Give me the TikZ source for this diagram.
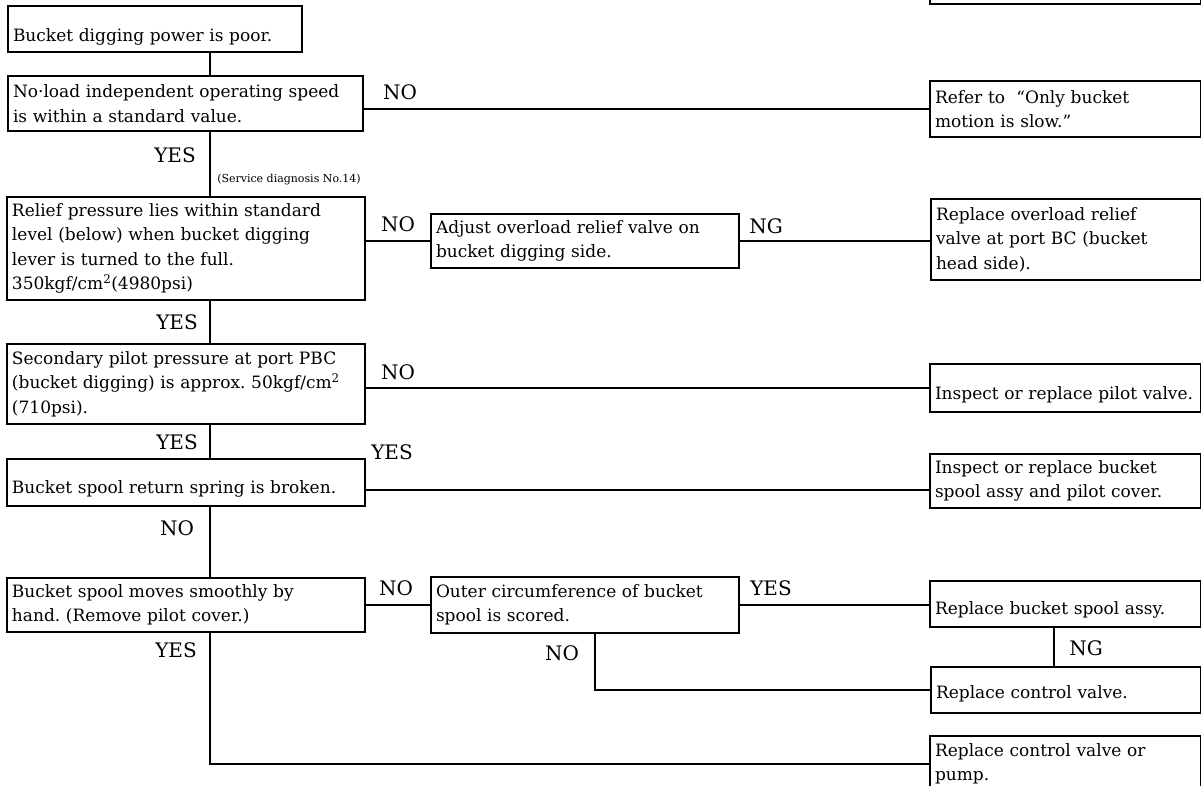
\documentclass[tikz,border=0pt]{standalone}
\usepackage{fontspec}
\setmainfont{DejaVu Serif}
\frenchspacing
\begin{document}
\begin{tikzpicture}[x=1pt,y=-1pt,
 bx/.style 2 args={draw, line width=2pt, anchor=north west, inner xsep=5pt, inner ysep=0pt, align=left, minimum width=#1pt, minimum height=#2pt, text width=#1pt-10pt, font=\fontsize{17}{24.5}\selectfont},
 sl/.style={text height=#1, text depth=0pt},
 lbl/.style={font=\fontsize{20}{24}\selectfont, inner sep=0pt},
 ln/.style={line width=2pt}]
\useasboundingbox (0,0) rectangle (1201,786);
\clip (0,0) rectangle (1201,786);
\node[bx={271}{43}] (top) at (929,-40) {};
\node[bx={294}{46}, sl=26pt] (b1) at (7,5) {Bucket digging power is poor.};
\node[bx={355}{55}] (b2) at (7,75) {No·load independent operating speed\\is within a standard value.};
\node[bx={271}{56}] (refer) at (929,80) {Refer to\ \ “Only bucket\\motion is slow.”};
\node[bx={358}{103}] (b3) at (6,196) {Relief pressure lies within standard\\level (below) when bucket digging\\lever is turned to the full.\\350kgf/cm\textsuperscript{2}(4980psi)};
\node[bx={308}{54}] (adj) at (430,213) {Adjust overload relief valve on\\bucket digging side.};
\node[bx={270}{81}] (rov) at (930,198) {Replace overload relief\\valve at port BC (bucket\\head side).};
\node[bx={358}{80}] (b4) at (6,343) {Secondary pilot pressure at port PBC\\(bucket digging) is approx. 50kgf/cm\textsuperscript{2}\\(710psi).};
\node[bx={271}{48}, sl=23pt] (pil) at (929,363) {Inspect or replace pilot valve.};
\node[bx={358}{47}, sl=21pt] (b5) at (6,458) {Bucket spool return spring is broken.};
\node[bx={271}{54}] (insp) at (929,453) {Inspect or replace bucket\\spool assy and pilot cover.};
\node[bx={358}{54}] (b6) at (6,577) {Bucket spool moves smoothly by\\hand. (Remove pilot cover.)};
\node[bx={308}{56}] (outer) at (430,576) {Outer circumference of bucket\\spool is scored.};
\node[bx={271}{46}, sl=21pt] (rbs) at (929,580) {Replace bucket spool assy.};
\node[bx={270}{46}, sl=17pt] (rcv) at (930,666) {Replace control valve.};
\node[bx={271}{56}] (pump) at (929,735) {Replace control valve or\\pump.};
% labels
\node[lbl] (l1) at (400,92) {NO};
\node[lbl] (l2) at (175,155) {YES};
\node[font=\fontsize{11}{12}\selectfont, inner sep=0pt] (sd) at (289,180) {(Service diagnosis No.14)};
\node[lbl] (l3) at (398,224) {NO};
\node[lbl] (l4) at (766,226) {NG};
\node[lbl] (l5) at (177,322) {YES};
\node[lbl] (l6) at (398,372) {NO};
\node[lbl] (l7) at (177,442) {YES};
\node[lbl] (l8) at (392,452) {YES};
\node[lbl] (l9) at (177,528) {NO};
\node[lbl] (l10) at (396,588) {NO};
\node[lbl] (l11) at (176,650) {YES};
\node[lbl] (l12) at (771,588) {YES};
\node[lbl] (l13) at (562,653) {NO};
\node[lbl] (l14) at (1086,648) {NG};
% connectors
\coordinate (tx) at (210,0);
\coordinate (nx) at (595,0);
\coordinate (gx) at (1054,0);
\coordinate (r5) at (0,490);
\draw[ln] (b1.south -| tx) -- (b2.north -| tx);
\draw[ln] (refer.west -| b2.east) -- (refer.west);
\draw[ln] (b2.south -| tx) -- (b3.north -| tx);
\draw[ln] (adj.west -| b3.east) -- (adj.west);
\draw[ln] (adj.east) -- (adj.east -| rov.west);
\draw[ln] (b3.south -| tx) -- (b4.north -| tx);
\draw[ln] (pil.west -| b4.east) -- (pil.west);
\draw[ln] (b4.south -| tx) -- (b5.north -| tx);
\draw[ln] (r5 -| b5.east) -- (r5 -| insp.west);
\draw[ln] (b5.south -| tx) -- (b6.north -| tx);
\draw[ln] (b6.east) -- (b6.east -| outer.west);
\draw[ln] (b6.east -| outer.east) -- (b6.east -| rbs.west);
\draw[ln] (outer.south -| nx) |- (rcv.west);
\draw[ln] (rbs.south -| gx) -- (rcv.north -| gx);
\draw[ln] (b6.south -| tx) |- (pump.west);
\end{tikzpicture}
\end{document}
